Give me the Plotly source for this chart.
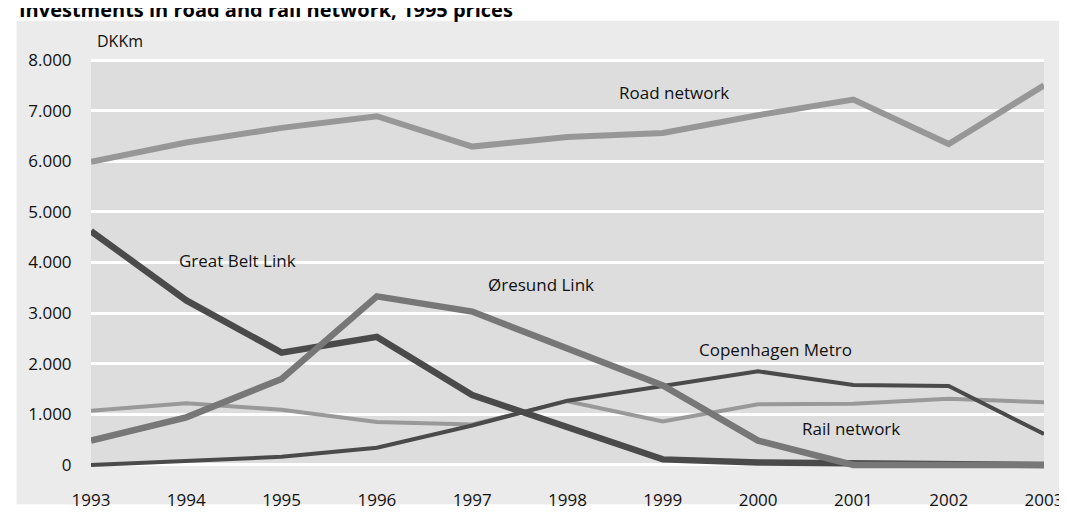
import plotly.graph_objects as go

# ---- data ----
years = [1993, 1994, 1995, 1996, 1997, 1998, 1999, 2000, 2001, 2002, 2003]
road_network = [5990, 6370, 6660, 6890, 6290, 6480, 6560, 6910, 7220, 6340, 7500]
great_belt_link = [4620, 3250, 2220, 2530, 1380, 760, 110, 50, 30, 0, 0]
oresund_link = [480, 940, 1700, 3330, 3030, 2300, 1570, 480, 0, 0, 0]
copenhagen_metro = [0, 80, 160, 340, 780, 1270, 1570, 1850, 1580, 1560, 610]
rail_network = [1070, 1220, 1090, 850, 800, 1260, 860, 1200, 1210, 1310, 1240]
y_ticks = [0, 1000, 2000, 3000, 4000, 5000, 6000, 7000, 8000]

title_text = "Investments in road and rail network, 1995 prices"
unit_text = "DKKm"

FONT = "Open Sans, Noto Sans, DejaVu Sans, sans-serif"

fig = go.Figure()

# drawing order: bottom to top
series = [
    ("Rail network", rail_network, "#999999", 4),
    ("Great Belt Link", great_belt_link, "#4a4a4a", 6.5),
    ("Copenhagen Metro", copenhagen_metro, "#4a4a4a", 4),
    ("Øresund Link", oresund_link, "#777777", 6.5),
    ("Road network", road_network, "#979797", 6),
]
for name, vals, col, w in series:
    fig.add_trace(go.Scatter(
        x=years, y=vals, mode="lines", name=name,
        line=dict(color=col, width=w, shape="linear"),
        hoverinfo="skip", showlegend=False,
    ))

# labels on the lines
labels = [
    ("Road network", 1999.12, 7360),
    ("Great Belt Link", 1994.54, 4030),
    ("Øresund Link", 1997.72, 3570),
    ("Copenhagen Metro", 2000.18, 2290),
    ("Rail network", 2000.98, 720),
]
for txt, lx, ly in labels:
    fig.add_annotation(x=lx, y=ly, xref="x", yref="y", text=txt, showarrow=False,
                       font=dict(family=FONT, size=17, color="#111111"),
                       xanchor="center", yanchor="middle")

# unit label
fig.add_annotation(x=0.0042, y=1.0356, xref="paper", yref="paper", text=unit_text,
                   showarrow=False, xanchor="left", yanchor="middle",
                   font=dict(family=FONT, size=16, color="#111111"))

# title (partly cut off at the top, as in the reference)
fig.add_annotation(x=-0.078, y=1.1116, xref="paper", yref="paper",
                   text="<b>" + title_text + "</b>", showarrow=False,
                   xanchor="left", yanchor="middle",
                   font=dict(family=FONT, size=20, color="#000000"))

# outer light-grey panel
fig.add_shape(type="rect", xref="paper", yref="paper",
              x0=-0.07804, x1=1.01665, y0=-0.0855, y1=1.0855,
              fillcolor="#ebebeb", line=dict(width=0), layer="below")
# plot area (darker grey), exactly 0..8000
fig.add_shape(type="rect", xref="x", yref="y",
              x0=years[0], x1=years[-1], y0=y_ticks[0], y1=y_ticks[-1],
              fillcolor="#dddddd", line=dict(width=0), layer="below")

fig.update_layout(
    width=1067, height=515,
    margin=dict(l=83, r=23, t=48, b=46, pad=0),
    paper_bgcolor="#ffffff",
    plot_bgcolor="#ebebeb",
    separators=",.",
    showlegend=False,
    font=dict(family=FONT, size=17, color="#111111"),
)
fig.update_xaxes(
    range=[years[0], years[-1]],
    tickmode="array", tickvals=years, ticktext=[str(y) for y in years],
    showgrid=False, zeroline=False, showline=False,
    ticks="outside", ticklen=16, tickcolor="rgba(0,0,0,0)",
    tickfont=dict(family=FONT, size=17, color="#111111"),
)
fig.update_yaxes(
    range=[-80, 8080],
    tickmode="array", tickvals=y_ticks, tickformat=",d",
    showgrid=True, gridcolor="#ffffff", gridwidth=2.5,
    zeroline=True, zerolinecolor="#ffffff", zerolinewidth=2.5,
    showline=False,
    ticks="outside", ticklen=15, tickcolor="rgba(0,0,0,0)",
    tickfont=dict(family=FONT, size=17, color="#111111"),
)

fig.write_html("out.html")
